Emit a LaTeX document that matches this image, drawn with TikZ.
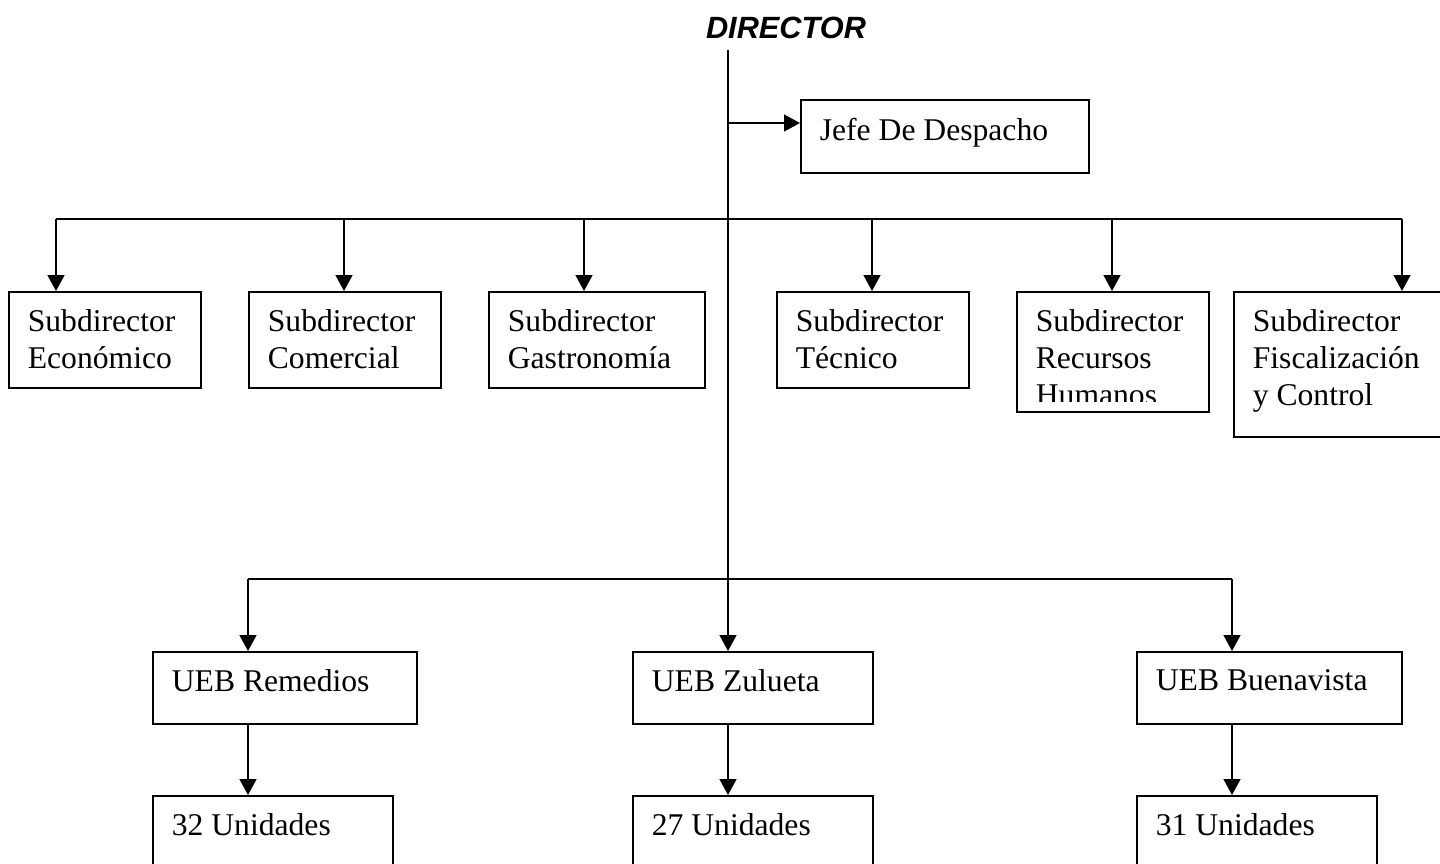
\documentclass[tikz,border=0pt]{standalone}
\usepackage{fontspec}
\setmainfont{Liberation Serif}
\setsansfont{Liberation Sans}
\usetikzlibrary{arrows.meta, positioning}

\begin{document}
\begin{tikzpicture}[
  x=0.02cm, y=-0.02cm,
  unit/.style = {draw=black, line width=1.1pt, anchor=north west, inner sep=0pt},
  lbl/.style  = {anchor=north west, align=left, inner sep=0pt,
                 font=\fontsize{18}{21}\selectfont},
  wire/.style = {line width=1.1pt},
  feed/.style = {wire, -{Triangle[length=9pt, width=9.5pt]}},
]
\useasboundingbox (0,0) rectangle (1440,863);

% head of the chart
\node[font=\fontsize{17.5}{20}\selectfont\sffamily\bfseries\itshape, anchor=base]
  (dir) at (786,38) {DIRECTOR};
\coordinate (top) at (728,50);

\node[unit, minimum width=5.76cm, minimum height=1.46cm] (jefe) at (800,99) {};
\node[lbl] at ([shift={(19.5,18.5)}]jefe.north west) {Jefe De Despacho};
\coordinate (tjefe) at (728,123);
\draw[feed] (tjefe) -- (tjefe -| jefe.west);

% subdirectors
\foreach \nm/\bx/\bw/\bh/\ax in {econ/8/192/96/56, com/248/192/96/344,
    gas/488/216/96/584, tec/776/192/96/872, rrhh/1016/192/120/1112,
    fisc/1233/240/145/1402}{
  \node[unit, minimum width=\bw*0.02cm, minimum height=\bh*0.02cm] (\nm) at (\bx,291) {};
  \coordinate (t\nm) at (\ax,219);
  \draw[feed] (t\nm) -- (t\nm |- \nm.north);
}
\draw[wire] (tecon) -- (tfisc);

\node[lbl] at ([shift={(19.5,18.5)}]econ.north west) {Subdirector\\Económico};
\node[lbl] at ([shift={(19.5,18.5)}]com.north west)  {Subdirector\\Comercial};
\node[lbl] at ([shift={(19.5,18.5)}]gas.north west)  {Subdirector\\Gastronomía};
\node[lbl] at ([shift={(19.5,18.5)}]tec.north west)  {Subdirector\\Técnico};
\begin{scope}
  \clip (rrhh.north west) rectangle ([shift={(0,-11)}]rrhh.south east);
  \node[lbl] at ([shift={(19.5,18.5)}]rrhh.north west) {Subdirector\\Recursos\\Humanos};
\end{scope}
\node[lbl] at ([shift={(19.5,18.5)}]fisc.north west) {Subdirector\\Fiscalización\\y Control};

% UEB and their units
\foreach \nm/\un/\bx/\bw/\ax/\ueb/\cnt in {rem/u32/152/264/248/Remedios/32,
    zul/u27/632/240/728/Zulueta/27, bue/u31/1136/265/1232/Buenavista/31}{
  \node[unit, minimum width=\bw*0.02cm, minimum height=1.44cm] (\nm) at (\bx,651) {};
  \node[unit, minimum width=4.8cm, minimum height=2.2cm] (\un) at (\bx,795) {};
  \node[lbl] at ([shift={(19.5,18.5)}]\nm.north west) {UEB \ueb};
  \node[lbl] at ([shift={(19.5,18.5)}]\un.north west) {\cnt{} Unidades};
  \coordinate (t\nm) at (\ax,579);
  \draw[feed] (t\nm) -- (t\nm |- \nm.north);
  \draw[feed] (t\nm |- \nm.south) -- (t\nm |- \un.north);
}
\draw[wire] (trem) -- (tbue);
\draw[wire] (top) -- (tzul);

\end{tikzpicture}
\end{document}
